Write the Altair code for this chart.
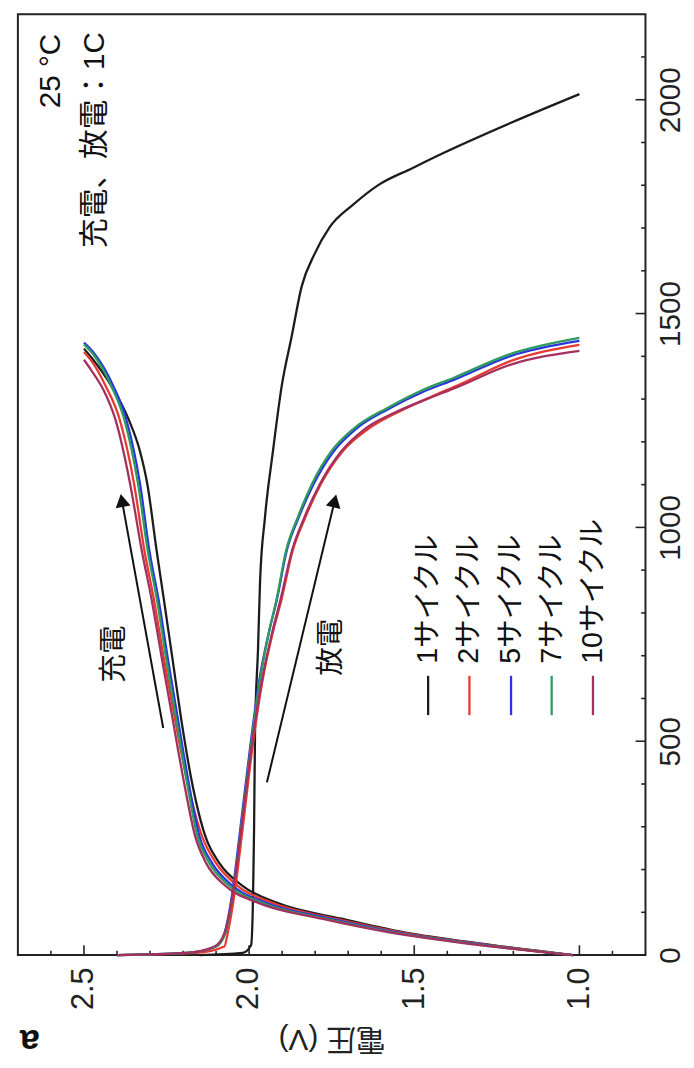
import altair as alt
import pandas as pd

FONT = "'Liberation Sans', 'Noto Sans CJK JP', sans-serif"

cycles = ["1サイクル", "2サイクル", "5サイクル", "7サイクル", "10サイクル"]
colors = ["#1c1c1c", "#e8392f", "#2a35e0", "#2f9a5e", "#a3305f"]

# ---- charge curves (capacity, voltage) ----
c1_charge_q = [0, 25, 53, 85, 122, 162, 215, 277, 416, 554, 693, 831, 946, 1101, 1177, 1253, 1332, 1395, 1418]
c1_charge_v = [1.02, 1.28, 1.53, 1.72, 1.915, 2.020, 2.090, 2.132, 2.176, 2.206, 2.232, 2.258, 2.280, 2.308, 2.330, 2.365, 2.418, 2.475, 2.50]
c2_charge_q = [0, 25, 53, 85, 122, 162, 215, 277, 416, 554, 693, 831, 946, 1101, 1253, 1332, 1390, 1410]
c2_charge_v = [1.02, 1.29, 1.54, 1.74, 1.930, 2.035, 2.100, 2.142, 2.190, 2.225, 2.258, 2.288, 2.317, 2.348, 2.392, 2.435, 2.478, 2.50]
c5_charge_q = [0, 25, 53, 85, 122, 162, 215, 277, 416, 554, 693, 831, 946, 1101, 1253, 1332, 1408, 1432]
c5_charge_v = [1.02, 1.30, 1.555, 1.755, 1.948, 2.050, 2.112, 2.150, 2.186, 2.216, 2.246, 2.274, 2.302, 2.330, 2.372, 2.412, 2.470, 2.50]
c7_charge_q = [0, 25, 53, 85, 122, 162, 215, 277, 416, 554, 693, 831, 946, 1101, 1253, 1332, 1405, 1428]
c7_charge_v = [1.02, 1.31, 1.565, 1.768, 1.960, 2.060, 2.120, 2.156, 2.191, 2.221, 2.251, 2.279, 2.307, 2.336, 2.378, 2.418, 2.472, 2.50]
c10_charge_q = [0, 25, 53, 85, 122, 162, 215, 277, 416, 554, 693, 831, 946, 1101, 1253, 1320, 1370, 1392]
c10_charge_v = [1.02, 1.32, 1.575, 1.78, 1.972, 2.072, 2.130, 2.163, 2.200, 2.232, 2.264, 2.295, 2.325, 2.360, 2.405, 2.440, 2.480, 2.50]

# ---- discharge curves ----
c1_dis_q = [0, 5, 23, 139, 293, 524, 716, 870, 1023, 1177, 1332, 1447, 1563, 1639, 1701, 1754, 1801, 1840, 1877, 1946, 2013]
c1_dis_v = [2.15, 2.02, 1.994, 1.988, 1.985, 1.982, 1.973, 1.967, 1.952, 1.928, 1.901, 1.871, 1.841, 1.802, 1.757, 1.686, 1.608, 1.506, 1.407, 1.207, 1.00]
c2_dis_q = [0, 5, 20, 50, 139, 293, 485, 639, 755, 831, 946, 1023, 1101, 1177, 1230, 1270, 1305, 1335, 1390, 1427]
c2_dis_v = [2.40, 2.16, 2.075, 2.065, 2.045, 2.020, 1.990, 1.960, 1.928, 1.902, 1.868, 1.830, 1.783, 1.718, 1.640, 1.548, 1.450, 1.360, 1.205, 1.00]
c5_dis_q = [0, 5, 20, 50, 139, 293, 485, 639, 755, 831, 946, 1023, 1101, 1177, 1230, 1277, 1316, 1346, 1401, 1436]
c5_dis_v = [2.40, 2.19, 2.10, 2.075, 2.052, 2.027, 1.997, 1.970, 1.940, 1.916, 1.886, 1.850, 1.805, 1.745, 1.677, 1.578, 1.476, 1.377, 1.207, 1.00]
c7_dis_q = [0, 5, 20, 50, 139, 293, 485, 639, 755, 831, 946, 1023, 1101, 1177, 1230, 1280, 1320, 1350, 1405, 1443]
c7_dis_v = [2.40, 2.19, 2.10, 2.072, 2.050, 2.025, 1.995, 1.968, 1.940, 1.917, 1.888, 1.853, 1.810, 1.752, 1.685, 1.580, 1.478, 1.380, 1.210, 1.00]
c10_dis_q = [0, 5, 20, 50, 139, 293, 485, 639, 755, 831, 946, 1023, 1101, 1177, 1230, 1268, 1300, 1328, 1380, 1413]
c10_dis_v = [2.40, 2.19, 2.105, 2.075, 2.050, 2.024, 1.993, 1.962, 1.930, 1.905, 1.870, 1.833, 1.786, 1.722, 1.650, 1.560, 1.462, 1.370, 1.210, 1.00]

curves = [
    (cycles[0], "charge", c1_charge_q, c1_charge_v),
    (cycles[0], "discharge", c1_dis_q, c1_dis_v),
    (cycles[1], "charge", c2_charge_q, c2_charge_v),
    (cycles[1], "discharge", c2_dis_q, c2_dis_v),
    (cycles[2], "charge", c5_charge_q, c5_charge_v),
    (cycles[2], "discharge", c5_dis_q, c5_dis_v),
    (cycles[3], "charge", c7_charge_q, c7_charge_v),
    (cycles[3], "discharge", c7_dis_q, c7_dis_v),
    (cycles[4], "charge", c10_charge_q, c10_charge_v),
    (cycles[4], "discharge", c10_dis_q, c10_dis_v),
]

rows = []
for k, (cyc, seg, qs, vs) in enumerate(curves):
    for i, (q, v) in enumerate(zip(qs, vs)):
        rows.append({"cycle": cyc, "seg": f"{k}-{seg}", "Q": q, "V": v, "i": i})
df = pd.DataFrame(rows)

# axis ticks / labels
v_major = [1.0, 1.5, 2.0, 2.5]
v_minor = [0.9, 1.1, 1.2, 1.3, 1.4, 1.6, 1.7, 1.8, 1.9, 2.1, 2.2, 2.3, 2.4, 2.6]
q_major = [0, 500, 1000, 1500, 2000]
q_minor = [100, 200, 300, 400, 600, 700, 800, 900, 1100, 1200, 1300, 1400, 1600, 1700, 1800, 1900, 2100]

xaxis = alt.Axis(values=v_major, format=".1f", labelAngle=270, labelAlign="right",
                 labelBaseline="middle", labelPadding=12, labelFontSize=31, labelFont=FONT,
                 labelColor="#222", ticks=False, domain=False, grid=False,
                 title="電圧 (V)", titleAngle=180, titleBaseline="bottom", titleFontSize=30,
                 titleFont=FONT, titleFontWeight="normal", titleColor="#222", titlePadding=14,
                 labelFlush=False, labelOverlap=False)
yaxis = alt.Axis(orient="right", values=q_major, format="d", labelAngle=270, labelAlign="center",
                 labelBaseline="top", labelPadding=10, labelFontSize=30, labelFont=FONT,
                 labelColor="#222", ticks=False, domain=False, grid=False, title=None,
                 labelFlush=False, labelOverlap=False)

X = alt.X("V:Q", scale=alt.Scale(domain=[0.8, 2.7], reverse=True, nice=False, zero=False), axis=xaxis)
Y = alt.Y("Q:Q", scale=alt.Scale(domain=[0, 2200], nice=False, zero=False), axis=yaxis)
CSCALE = alt.Scale(domain=cycles, range=colors)

lines = alt.Chart(df).mark_line(strokeWidth=2.3, interpolate="monotone").encode(
    x=X, y=Y,
    color=alt.Color("cycle:N", scale=CSCALE, legend=None),
    detail="seg:N",
    order="i:Q",
)

# inward tick marks
bt = pd.DataFrame({"V": v_major + v_minor,
                   "Q": [0] * (len(v_major) + len(v_minor)),
                   "Q2": [23] * len(v_major) + [10] * len(v_minor)})
rt = pd.DataFrame({"Q": q_major + q_minor,
                   "V": [0.8] * (len(q_major) + len(q_minor)),
                   "V2": [0.83] * len(q_major) + [0.813] * len(q_minor)})
bticks = alt.Chart(bt).mark_rule(color="#222", strokeWidth=1.6).encode(x=X, y=Y, y2="Q2:Q")
rticks = alt.Chart(rt).mark_rule(color="#222", strokeWidth=1.6).encode(x=X, x2="V2:Q", y=Y)

# legend
leg_v = [1.458, 1.333, 1.207, 1.084, 0.959]
leg = pd.DataFrame({"cycle": cycles, "V": leg_v, "Q": [561] * 5, "Q2": [653] * 5})
leg_lines = alt.Chart(leg).mark_rule(strokeWidth=2.3).encode(
    x=X, y=Y, y2="Q2:Q",
    color=alt.Color("cycle:N", scale=CSCALE, legend=None))
leg_t = pd.DataFrame({"cycle": cycles, "V": leg_v, "Q": [681] * 5})
leg_text = alt.Chart(leg_t).mark_text(angle=270, align="left", baseline="middle", fontSize=29,
                                      font=FONT, color="#111").encode(x=X, y=Y, text="cycle:N")

# annotations
ann = pd.DataFrame({
    "label": ["充電", "放電"],
    "V": [2.410, 1.751],
    "Q": [704, 720],
})
ann_text = alt.Chart(ann).mark_text(angle=270, align="center", baseline="middle", fontSize=29,
                                    font=FONT, color="#111").encode(x=X, y=Y, text="label:N")

cond = pd.DataFrame({"label": ["25 °C", "充電、放電：1C"], "V": [2.598, 2.467], "Q": [2154, 2158]})
cond_text = alt.Chart(cond).mark_text(angle=270, align="right", baseline="middle", fontSize=30,
                                      font=FONT, color="#111").encode(x=X, y=Y, text="label:N")

panel = pd.DataFrame({"label": ["a"], "V": [2.664], "Q": [-200]})
panel_text = alt.Chart(panel).mark_text(angle=180, align="center", baseline="middle", fontSize=36,
                                        fontWeight="bold", font=FONT, color="#111").encode(
    x=X, y=Y, text="label:N")

# arrows
arr = pd.DataFrame({"V": [2.260, 1.946], "Q": [531, 404], "V2": [2.385, 1.741], "Q2": [1063, 1062]})
arrow_lines = alt.Chart(arr).mark_rule(color="#111", strokeWidth=2).encode(
    x=X, y=Y, x2="V2:Q", y2="Q2:Q")
heads = pd.DataFrame({"V": [2.385, 1.741], "Q": [1063, 1062], "ang": [349.7, 13.5]})
arrow_heads = alt.Chart(heads).mark_point(shape="triangle-up", filled=True, size=230, color="#111",
                                          opacity=1, strokeWidth=0).encode(
    x=X, y=Y, angle=alt.Angle("ang:Q", scale=None))

chart = alt.layer(
    bticks, rticks, lines, leg_lines, leg_text, ann_text, cond_text, panel_text,
    arrow_lines, arrow_heads
).properties(
    width=635, height=952,
    autosize=alt.AutoSizeParams(type="none"),
    padding={"left": 10, "top": 0, "right": 41, "bottom": 108},
).configure(font=FONT).configure_view(stroke="#222", strokeWidth=2)

chart.save("out.html", embed_options={"renderer": "svg", "actions": False})
